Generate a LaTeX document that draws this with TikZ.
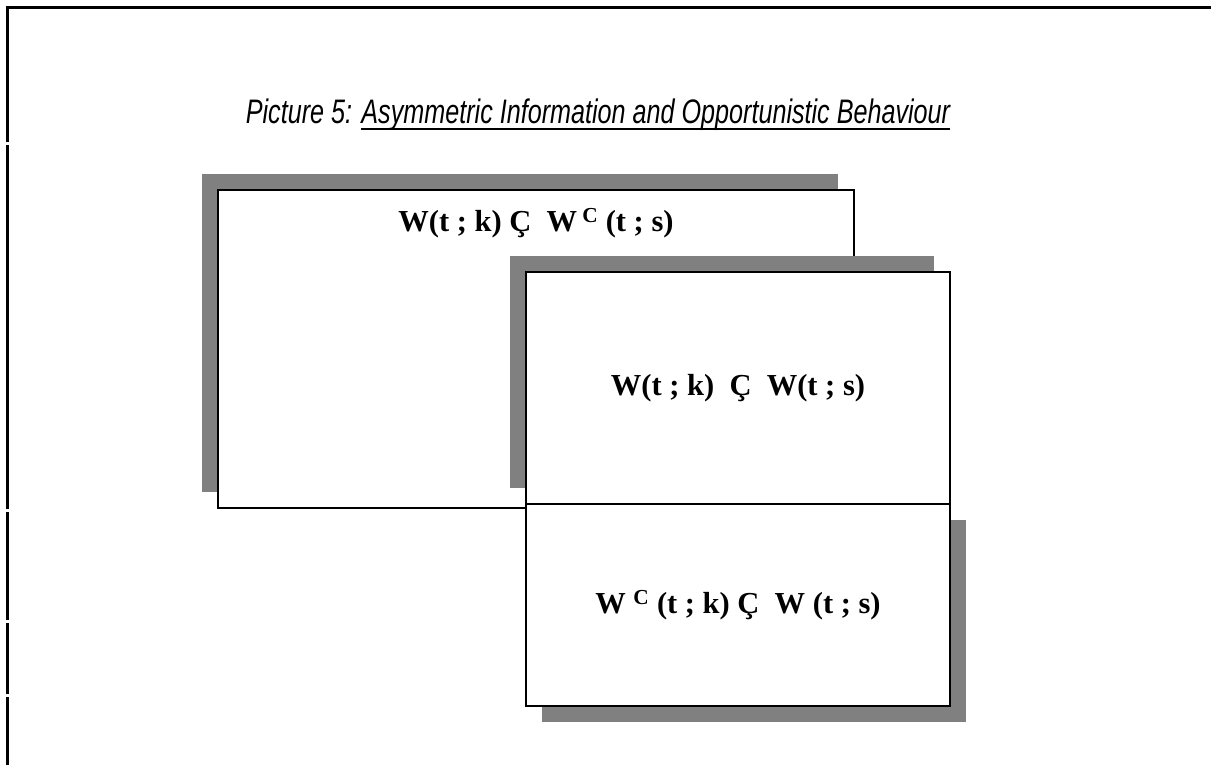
\documentclass[tikz,border=0pt]{standalone}
\usepackage{fontspec}
\setmainfont{Liberation Serif}
\newfontfamily\captionfont[FakeStretch=0.74]{Liberation Sans}
\usepackage{xcolor}
\definecolor{shadowGray}{HTML}{808080}
\usepackage{tikz}
\usetikzlibrary{positioning,shadows}

% underline with a heavier rule than \underline gives
\newcommand\headrule[1]{\setbox0\hbox{#1}\rlap{\rule[-6pt]{\wd0}{2.2pt}}\box0}

\begin{document}
\begin{tikzpicture}[
    x=1pt, y=-1pt,
    every node/.style={inner sep=0pt, outer sep=0pt},
    frameline/.style={line width=3pt, black},
    sheet/.style={rectangle, draw=black, line width=2pt, fill=white,
                  anchor=north west},
    shadowUL/.style={drop shadow={shadow xshift=-16pt, shadow yshift=16pt,
                     fill=shadowGray, opacity=1}},
    shadowLR/.style={drop shadow={shadow xshift=16pt, shadow yshift=-16pt,
                     fill=shadowGray, opacity=1}},
    formula/.style={font=\fontsize{30.5}{34}\selectfont\bfseries},
    caption/.style={font=\captionfont\itshape\fontsize{34}{40}\selectfont},
  ]
  \useasboundingbox (0,0) rectangle (1211,765);

  % --- page frame (top and broken left edge) ---
  \draw[frameline] (5.5,8) -- (1211,8);
  \foreach \ya/\yb in {8/142,145/509,512/620,623/694,697/765}
    \draw[frameline] (7,\ya) -- (7,\yb);

  % --- heading ---
  \node[caption, anchor=base] (heading) at (598,124)
    {Picture 5: \headrule{Asymmetric Information and Opportunistic Behaviour}};

  % --- large sheet, shadow to the upper left ---
  \node[sheet, shadowUL, minimum width=636pt, minimum height=318pt]
    (bigSheet) at (218,190) {};
  \node[formula, below=18pt of bigSheet.north] (bigText)
    {W(t ; k) Ç\ \ W\,\textsuperscript{C} (t ; s)};

  % --- upper right sheet ---
  \node[sheet, shadowUL, minimum width=424pt, minimum height=232pt, formula]
    (upperSheet) at (526,272) {W(t ; k)\ \ Ç\ \ W(t ; s)};

  % --- lower right sheet, shadow to the lower right ---
  \node[sheet, shadowLR, minimum width=424pt, minimum height=202pt, formula]
    (lowerSheet) at (526,504) {W\ \textsuperscript{C}\ (t ; k) Ç\ \ W (t ; s)};

\end{tikzpicture}
\end{document}
